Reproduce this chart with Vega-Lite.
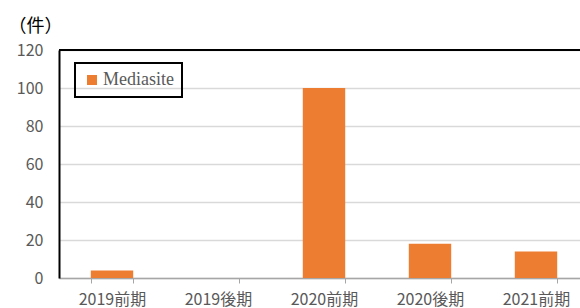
{
  "$schema": "https://vega.github.io/schema/vega-lite/v6.json",
  "autosize": {"type": "none"},
  "width": 521,
  "height": 228,
  "padding": {"left": 59, "top": 50, "right": 0, "bottom": 30},
  "background": "white",
  "config": {
    "view": {"stroke": null},
    "font": "Noto Sans CJK JP",
    "axisY": {
      "tickCount": 7,
      "labelOverlap": false,
      "titleAngle": 0, "titleX": -24, "titleY": -24,
      "titleAlign": "center", "titleBaseline": "middle",
      "titleFontSize": 18, "titleFontWeight": "normal", "titleColor": "#000000",
      "labelFontSize": 16, "labelColor": "#595959", "labelPadding": 16,
      "ticks": false, "domainColor": "#000000", "domainWidth": 2,
      "gridColor": "#d9d9d9", "gridWidth": 1.5
    }
  },
  "data": {
    "values": [
      {"period": "2019前期", "count": 4, "series": "Mediasite"},
      {"period": "2019後期", "count": 0, "series": "Mediasite"},
      {"period": "2020前期", "count": 100, "series": "Mediasite"},
      {"period": "2020後期", "count": 18, "series": "Mediasite"},
      {"period": "2021前期", "count": 14, "series": "Mediasite"}
    ]
  },
  "layer": [
    {
      "mark": {"type": "bar", "color": "#ED7D31"},
      "encoding": {
        "x": {
          "field": "period", "type": "nominal", "sort": null,
          "scale": {"range": [0, 530], "paddingInner": 0.6, "paddingOuter": 0.3},
          "axis": {
            "title": null, "labelAngle": 0, "labelFontSize": 16, "labelColor": "#595959",
            "labelPadding": 8, "domainColor": "#a6a6a6", "domainWidth": 1.5,
            "tickColor": "#a6a6a6", "tickSize": 5, "tickBand": "extent", "grid": false
          }
        },
        "y": {
          "field": "count", "type": "quantitative",
          "scale": {"domain": [0, 120]},
          "axis": {"title": "（件）", "values": [0, 20, 40, 60, 80, 100, 120], "tickCount": 7}
        },
        "color": {
          "field": "series", "type": "nominal",
          "scale": {"range": ["#ED7D31"]},
          "legend": {
            "title": null, "orient": "none", "legendX": 16, "legendY": 13,
            "symbolType": "square", "symbolSize": 100, "symbolStrokeWidth": 0,
            "labelFont": "Liberation Serif", "labelFontSize": 18, "labelColor": "#595959",
            "labelOffset": 2,
            "strokeColor": "#000000", "padding": 8,
            "encode": {"legend": {"update": {"strokeWidth": {"value": 2}}}}
          }
        }
      }
    },
    {
      "mark": {"type": "rule", "color": "#000000", "strokeWidth": 2},
      "encoding": {"y": {"datum": 120, "axis": {"title": "（件）", "values": [0, 20, 40, 60, 80, 100, 120], "tickCount": 7}}}
    }
  ]
}
